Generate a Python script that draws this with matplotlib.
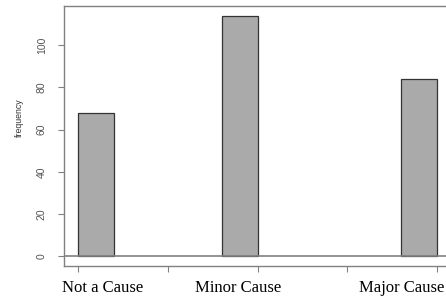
import matplotlib
matplotlib.use("Agg")
import matplotlib.pyplot as plt
import numpy as np

# histogram of the cause factor (level codes 1..3)
categories = ["Not a Cause", "Minor Cause", "Major Cause"]
codes = [1, 2, 3]
counts = [68, 114, 84]
label_pos = [1.134, 1.89, 2.805]
yticks = [0, 20, 40, 60, 80, 100]
xticks = [1.0, 1.5, 2.0, 2.5, 3.0]

# R-style right-closed bins, lowest included
edges = np.linspace(1, 3, 11)
idx = np.clip(np.searchsorted(edges, codes, side="left") - 1, 0, None)
bw = edges[1] - edges[0]

fig = plt.figure(figsize=(4.46, 2.97), dpi=100)
ax = fig.add_axes([64 / 446, 31 / 297, 387.4 / 446, 260 / 297])

ax.bar(edges[idx], counts, width=bw, align="edge", color="#aaaaaa",
       edgecolor="#333333", linewidth=0.9)
ax.axhline(0, color="#808080", linewidth=1.2)

ax.set_xlim(0.92, 3.08)
ax.set_ylim(-4.56, 118.56)

for s in ax.spines.values():
    s.set_color("#808080")
    s.set_linewidth(1.0)

ax.set_yticks(yticks)
ax.set_yticklabels([str(v) for v in yticks], rotation=90, va="center",
                   fontsize=7.5, family="Liberation Sans", color="#555555")
ax.tick_params(axis="y", length=4.3, width=0.8, color="#808080", pad=8)

ax.set_xticks(xticks)
ax.set_xticklabels([])
ax.tick_params(axis="x", length=4.3, width=0.8, color="#808080")

for x, lab in zip(label_pos, categories):
    ax.text(x, -0.1, lab, transform=ax.get_xaxis_transform(), ha="center",
            va="baseline", fontsize=12, family="Liberation Serif")

fig.text(19 / 446, (297 - 118) / 297, "frequency", rotation=90, ha="center",
         va="center", fontsize=6.3, family="Liberation Sans", color="#333333")

fig.savefig("out.png", dpi=100)
